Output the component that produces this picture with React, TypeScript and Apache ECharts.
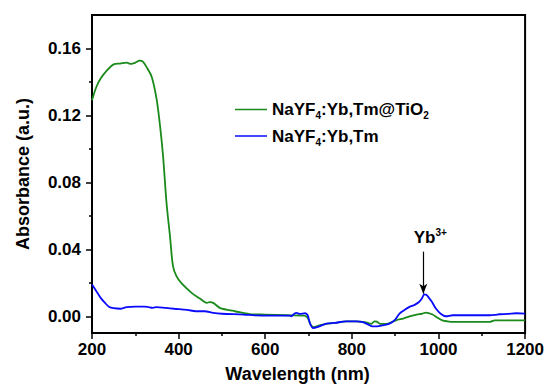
import React, { useEffect, useRef } from "react";
import * as echarts from "echarts";

// ---- data ----
const greenNm = [200, 210, 220, 235, 250, 265, 280, 290, 300, 310, 318, 328, 338, 349, 357, 364, 372, 380, 387, 395, 407, 430, 449, 465, 472, 480, 495, 510, 530, 564, 600, 650, 690, 698, 705, 712, 725, 741, 760, 787, 810, 830, 845, 852, 858, 865, 880, 902, 920, 933, 950, 962, 971, 985, 1000, 1009, 1020, 1033, 1080, 1118, 1130, 1160, 1200];
const greenAbs = [0.129, 0.137, 0.142, 0.147, 0.1505, 0.151, 0.1515, 0.1508, 0.1515, 0.1527, 0.152, 0.148, 0.143, 0.130, 0.114, 0.096, 0.068, 0.048, 0.030, 0.024, 0.0196, 0.014, 0.0106, 0.008, 0.0085, 0.008, 0.005, 0.004, 0.003, 0.0013, 0.001, 0.0006, 0.0004, -0.001, -0.005, -0.0065, -0.0055, -0.0045, -0.004, -0.003, -0.003, -0.0035, -0.0045, -0.003, -0.0032, -0.0045, -0.0045, -0.0024, -0.0012, 0.0, 0.001, 0.0015, 0.0022, 0.0012, -0.0012, -0.0024, -0.003, -0.0034, -0.0034, -0.0034, -0.0024, -0.0024, -0.0024];

const blueNm = [200, 210, 220, 230, 240, 250, 265, 280, 300, 320, 330, 340, 350, 370, 390, 420, 440, 460, 480, 500, 550, 576, 620, 656, 660, 667, 672, 679, 687, 692, 698, 703, 710, 720, 741, 760, 787, 810, 825, 838, 848, 858, 870, 887, 900, 910, 920, 933, 945, 955, 962, 967, 972, 978, 985, 994, 1005, 1017, 1033, 1080, 1118, 1130, 1141, 1160, 1180, 1200];
const blueAbs = [0.019, 0.015, 0.011, 0.008, 0.0055, 0.0048, 0.0045, 0.0055, 0.0058, 0.0058, 0.0055, 0.005, 0.0055, 0.005, 0.0045, 0.0038, 0.003, 0.003, 0.002, 0.0015, 0.001, 0.0005, 0.0004, 0.0004, 0.0, 0.0015, 0.002, 0.0014, 0.0016, 0.0018, 0.0006, -0.004, -0.007, -0.0065, -0.0044, -0.004, -0.003, -0.003, -0.0035, -0.005, -0.006, -0.006, -0.0055, -0.0044, -0.002, 0.0016, 0.0035, 0.0056, 0.0068, 0.0085, 0.0108, 0.013, 0.0128, 0.011, 0.0085, 0.0046, 0.0015, 0.0, 0.0006, 0.0006, 0.0006, 0.0008, 0.0012, 0.0014, 0.0018, 0.0016];

const xTicks = { min: 200, max: 1200, step: 200 };
const yRange = { min: -0.01, max: 0.18 };
const yTicks = { min: 0, max: 0.16, step: 0.04 };
const seriesNames = ["NaYF4:Yb,Tm@TiO2", "NaYF4:Yb,Tm"];
const legendLabels: Record<string, string> = {
  "NaYF4:Yb,Tm@TiO2": "{b|NaYF}{s|4}{b|:Yb,Tm@TiO}{s|2}",
  "NaYF4:Yb,Tm": "{b|NaYF}{s|4}{b|:Yb,Tm}",
};
const annotation = { nm: 965, from: 0.0386, to: 0.0135, text: "{b|Yb}{p|3+}" };

const FONT = "'Liberation Sans', Arial, sans-serif";

export default function App() {
  const ref = useRef<HTMLDivElement>(null);
  useEffect(() => {
    if (!ref.current) return;
    document.body.style.margin = "0";
    const chart = echarts.init(ref.current, undefined, { renderer: "svg" });
    const H = 388;
    const gTop = 15, gBottom = 55, gLeft = 92, gRight = 21;
    const plotH = H - gTop - gBottom;
    const pxPerUnit = plotH / (yRange.max - yRange.min);
    const tickTop = gTop + (yRange.max - yTicks.max) * pxPerUnit;
    const tickBottom = gBottom + (yTicks.min - yRange.min) * pxPerUnit;

    const zip = (xs: number[], ys: number[]) => xs.map((x, i) => [x, ys[i]]);
    const labelStyle = { fontFamily: FONT, fontWeight: "bold" as const, fontSize: 17, color: "#000" };

    chart.setOption({
      animation: false,
      backgroundColor: "#fff",
      grid: [
        { left: gLeft, right: gRight, top: gTop, bottom: gBottom, show: true, borderColor: "#000", borderWidth: 2 },
        { left: gLeft, right: gRight, top: tickTop, bottom: tickBottom },
      ],
      xAxis: [
        {
          type: "value", gridIndex: 0, min: xTicks.min, max: xTicks.max, interval: xTicks.step,
          name: "Wavelength (nm)", nameLocation: "middle", nameGap: 32,
          nameTextStyle: { fontFamily: FONT, fontWeight: "bold", fontSize: 18, color: "#000", padding: [0, 22, 0, 0] },
          axisLine: { show: true, onZero: false, lineStyle: { color: "#000", width: 2 } },
          axisTick: { show: true, length: 6, lineStyle: { color: "#000", width: 1.5 } },
          minorTick: { show: true, splitNumber: 2, length: 3, lineStyle: { color: "#000", width: 1.5 } },
          splitLine: { show: false },
          axisLabel: { ...labelStyle, margin: 8, formatter: (v: number) => String(v) },
        },
        { type: "value", gridIndex: 1, min: xTicks.min, max: xTicks.max, show: false },
      ],
      yAxis: [
        {
          type: "value", gridIndex: 0, min: yRange.min, max: yRange.max,
          name: "Absorbance (a.u.)", nameLocation: "middle", nameGap: 60,
          nameTextStyle: { fontFamily: FONT, fontWeight: "bold", fontSize: 18, color: "#000" },
          axisLine: { show: true, onZero: false, lineStyle: { color: "#000", width: 2 } },
          axisTick: { show: false }, axisLabel: { show: false }, splitLine: { show: false },
        },
        {
          type: "value", gridIndex: 1, min: yTicks.min, max: yTicks.max, interval: yTicks.step,
          axisLine: { show: false, onZero: false },
          axisTick: { show: true, length: 6, lineStyle: { color: "#000", width: 1.5 } },
          minorTick: { show: true, splitNumber: 2, length: 3, lineStyle: { color: "#000", width: 1.5 } },
          splitLine: { show: false },
          axisLabel: { ...labelStyle, margin: 11, formatter: (v: number) => v.toFixed(2) },
        },
      ],
      legend: {
        orient: "vertical", left: 230, top: 96, itemWidth: 32, itemHeight: 1.5, itemGap: 7,
        icon: "rect",
        data: seriesNames,
        formatter: (n: string) => legendLabels[n],
        textStyle: {
          fontFamily: FONT, color: "#000",
          rich: {
            b: { fontFamily: FONT, fontWeight: "bold", fontSize: 17, color: "#000", lineHeight: 22 },
            s: { fontFamily: FONT, fontWeight: "bold", fontSize: 10, color: "#000", lineHeight: 10, verticalAlign: "bottom" },
          },
        },
      },
      series: [
        {
          name: seriesNames[0], type: "line", xAxisIndex: 0, yAxisIndex: 0, symbol: "none",
          data: zip(greenNm, greenAbs), smooth: 0.3,
          lineStyle: { color: "#1a8a1a", width: 1.8 }, itemStyle: { color: "#1a8a1a" },
        },
        {
          name: seriesNames[1], type: "line", xAxisIndex: 0, yAxisIndex: 0, symbol: "none",
          data: zip(blueNm, blueAbs), smooth: 0.3, z: 3,
          lineStyle: { color: "#0a0aff", width: 1.8 }, itemStyle: { color: "#0a0aff" },
          markLine: {
            silent: true, symbol: ["none", "arrow"], symbolSize: [6, 10],
            lineStyle: { color: "#000", width: 1.2, type: "solid" },
            label: {
              show: true, position: "start", distance: 4, offset: [7, 0],
              formatter: annotation.text,
              rich: {
                b: { fontFamily: FONT, fontWeight: "bold", fontSize: 17, color: "#000", lineHeight: 20 },
                p: { fontFamily: FONT, fontWeight: "bold", fontSize: 10, color: "#000", lineHeight: 10, verticalAlign: "top" },
              },
            },
            data: [[{ coord: [annotation.nm, annotation.from] }, { coord: [annotation.nm, annotation.to] }]],
          },
        },
      ],
    });
    return () => chart.dispose();
  }, []);
  return <div ref={ref} style={{ width: 547, height: 388 }} />;
}
